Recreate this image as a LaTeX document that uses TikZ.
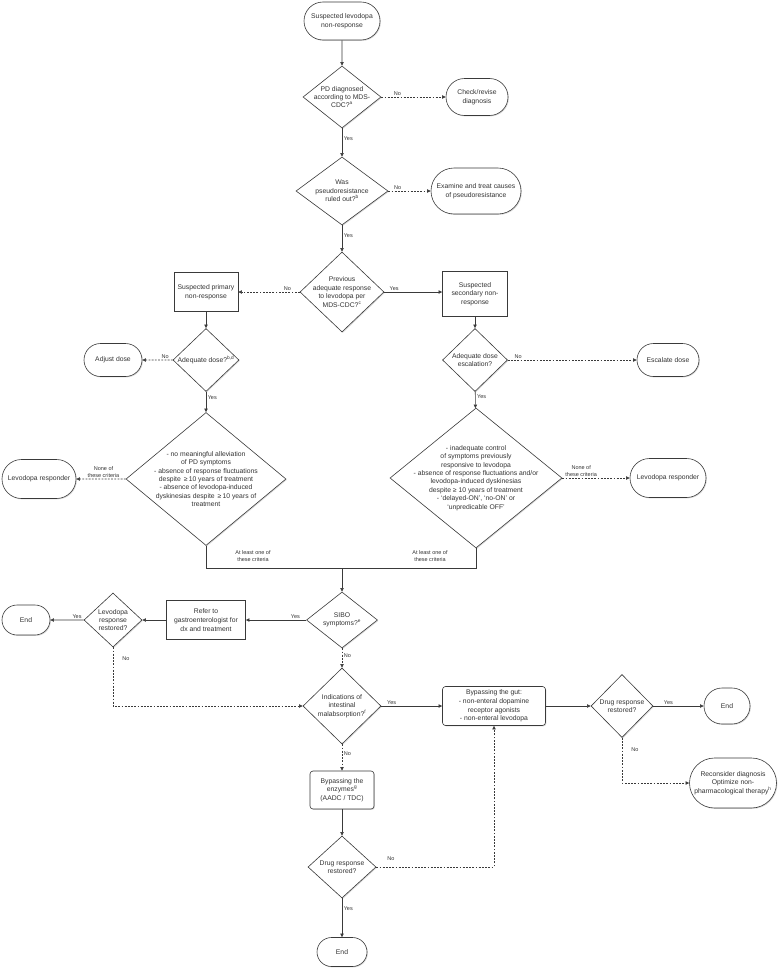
\documentclass[tikz,border=0pt]{standalone}
\usepackage{fontspec}
\setmainfont{Liberation Sans}
\usetikzlibrary{shapes.geometric,shapes.misc,arrows.meta,shadows}
\definecolor{linec}{HTML}{3A3A3A}
\definecolor{textc}{HTML}{333333}
\begin{document}
\begin{tikzpicture}[x=1pt,y=-1pt,
  every node/.style={text=textc},
  box/.style={draw=linec, fill=white, line width=0.6pt, font=\fontsize{6.8}{8.6}\selectfont, align=center, inner sep=1pt,
    drop shadow={shadow xshift=0.9pt,shadow yshift=-0.9pt,opacity=0.3}},
  term/.style={box, rounded rectangle},
  proc/.style={box, rectangle},
  rproc/.style={box, rectangle, rounded corners=3pt},
  dec/.style={box, diamond},
  lt/.style={font=\fontsize{6.8}{8.4}\selectfont, align=center, inner sep=0pt, text=textc},
  lbl/.style={font=\fontsize{5.5}{6.6}\selectfont, align=center, inner sep=1.5pt, text=textc},
  conn/.style={draw=linec, line width=0.6pt},
  arr/.style={conn, -{Triangle[length=3.6pt,width=3.4pt]}},
  darr/.style={arr, dash pattern=on 1.8pt off 1.4pt},
]
\useasboundingbox (0,0) rectangle (779,969);

% --- nodes ---
\node[term, minimum width=78pt, minimum height=38pt] (start) at (342,21) {Suspected levodopa\\non-response};
\node[dec, minimum width=78pt, minimum height=62pt, label={[lt]center:PD diagnosed\\according to MDS-\\CDC?\textsuperscript{a}}] (d1) at (342,97) {};
\node[term, minimum width=64pt, minimum height=37pt] (check) at (477,97) {Check/revise\\diagnosis};
\node[dec, minimum width=92pt, minimum height=68pt, label={[lt]center:Was\\pseudoresistance\\ruled out?\textsuperscript{b}}] (d2) at (342,191) {};
\node[term, minimum width=92pt, minimum height=46pt] (exam) at (476,191) {Examine and treat causes\\of pseudoresistance};
\node[dec, minimum width=84pt, minimum height=80pt, label={[lt]center:Previous\\adequate response\\to levodopa per\\MDS-CDC?\textsuperscript{c}}] (d3) at (342,292) {};
\node[proc, minimum width=64pt, minimum height=39pt] (prim) at (206,292) {Suspected primary\\non-response};
\node[proc, minimum width=65pt, minimum height=45pt] (sec) at (475,294) {Suspected\\secondary non-\\response};
\node[dec, minimum width=66pt, minimum height=63pt, label={[lt]center:Adequate dose?\textsuperscript{b,d}}] (d4) at (206,360) {};
\node[term, minimum width=60pt, minimum height=33pt] (adjust) at (113,360) {Adjust dose};
\node[dec, minimum width=65pt, minimum height=63pt, label={[lt]center:Adequate dose\\escalation?}] (d5) at (475,360) {};
\node[term, minimum width=64pt, minimum height=33pt] (escal) at (668,360) {Escalate dose};
\node[dec, minimum width=160pt, minimum height=133pt, label={[lt]center:- no meaningful alleviation\\of PD symptoms\\- absence of response fluctuations\\despite \,≥\,10 years of treatment\\- absence of levodopa-induced\\dyskinesias despite \,≥\,10 years of\\treatment}] (d6) at (206,479) {};
\node[term, minimum width=76pt, minimum height=39pt] (lr1) at (39,479) {Levodopa responder};
\node[dec, minimum width=172pt, minimum height=140pt, label={[lt]center:- inadequate control\\of symptoms previously\\responsive to levodopa\\- absence of response fluctuations and/or\\levodopa-induced dyskinesias\\despite ≥ 10 years of treatment\\- ‘delayed-ON’, ‘no-ON’ or\\‘unpredicable OFF’}] (d7) at (476,478) {};
\node[term, minimum width=78pt, minimum height=39pt] (lr2) at (668,478) {Levodopa responder};
\coordinate (mj) at (342,568);
\node[dec, minimum width=71pt, minimum height=56pt, label={[lt]center:SIBO\\symptoms?\textsuperscript{e}}] (sibo) at (342,620) {};
\node[proc, minimum width=79pt, minimum height=39pt] (refer) at (206,620) {Refer to\\gastroenterologist for\\dx and treatment};
\node[dec, minimum width=58pt, minimum height=54pt, label={[lt]center:Levodopa\\response\\restored?}] (lrr) at (113,620) {};
\node[term, minimum width=50pt, minimum height=30pt] (end1) at (26,620) {End};
\node[dec, minimum width=78pt, minimum height=76pt, label={[lt]center:Indications of\\intestinal\\malabsorption?\textsuperscript{f}}] (malabs) at (342,706) {};
\node[rproc, minimum width=103pt, minimum height=39pt] (gut) at (494,706) {Bypassing the gut:\\- non-enteral dopamine\\receptor agonists\\- non-enteral levodopa};
\node[dec, minimum width=62pt, minimum height=63pt, label={[lt]center:Drug response\\restored?}] (drr1) at (622,706) {};
\node[term, minimum width=48pt, minimum height=36pt] (end2) at (727,706) {End};
\node[term, minimum width=89pt, minimum height=50pt] (recon) at (733,783) {Reconsider diagnosis\\Optimize non-\\pharmacological therapy\textsuperscript{h}};
\node[rproc, minimum width=64pt, minimum height=38pt] (enz) at (342,790) {Bypassing the\\enzymes\textsuperscript{g}\\(AADC / TDC)};
\node[dec, minimum width=68pt, minimum height=62pt, label={[lt]center:Drug response\\restored?}] (drr2) at (342,867) {};
\node[term, minimum width=52pt, minimum height=29pt] (end3) at (342,952) {End};

% --- connectors ---
\draw[arr] (start) -- (d1);
\draw[darr] (d1) -- node[lbl,above,pos=0.25]{No} (check);
\draw[arr] (d1) -- node[lbl,right,pos=0.35]{Yes} (d2);
\draw[darr] (d2) -- node[lbl,above,pos=0.22]{No} (exam);
\draw[arr] (d2) -- node[lbl,right,pos=0.4]{Yes} (d3);
\draw[darr] (d3.west) -- node[lbl,above,pos=0.2]{No} (d3.west -| prim.east);
\draw[arr] (d3.east) -- node[lbl,above,pos=0.17]{Yes} (d3.east -| sec.west);
\draw[arr] (prim) -- (d4);
\draw[darr] (d4) -- node[lbl,above,pos=0.25]{No} (adjust);
\draw[arr] (d4) -- node[lbl,right,pos=0.3]{Yes} (d6);
\draw[arr] (sec) -- (d5);
\draw[darr] (d5) -- node[lbl,above,pos=0.08]{No} (escal);
\draw[arr] (d5) -- node[lbl,right,pos=0.3]{Yes} (d7);
\draw[darr] (d6) -- node[lbl,above,pos=0.45]{None of\\these criteria} (lr1);
\draw[darr] (d7) -- node[lbl,above,pos=0.28]{None of\\these criteria} (lr2);
\draw[conn] (d6.south) |- (mj);
\draw[conn] (d7.south) |- (mj);
\node[lbl] (al1) at (253,556) {At least one of\\these criteria};
\node[lbl] (al2) at (430,556) {At least one of\\these criteria};
\draw[arr] (mj) -- (sibo);
\draw[arr] (sibo) -- node[lbl,above,pos=0.18]{Yes} (refer);
\draw[arr] (refer) -- (lrr);
\draw[arr] (lrr) -- node[lbl,above,pos=0.2]{Yes} (end1);
\draw[darr] (lrr.south) |- (malabs.west);
\node[lbl] (lrrno) at (126,659) {No};
\draw[darr] (sibo) -- node[lbl,right,pos=0.4]{No} (malabs);
\draw[arr] (malabs) -- node[lbl,above,pos=0.17]{Yes} (gut);
\draw[arr] (gut) -- (drr1);
\draw[arr] (drr1) -- node[lbl,above,pos=0.3]{Yes} (end2);
\draw[darr] (drr1.south) |- (recon.west);
\node[lbl] (drr1no) at (635,750) {No};
\draw[darr] (malabs) -- node[lbl,right,pos=0.37]{No} (enz);
\draw[arr] (enz) -- (drr2);
\draw[arr] (drr2) -- node[lbl,right,pos=0.27]{Yes} (end3);
\draw[darr] (drr2.east) -| (gut.south);
\node[lbl] (drr2no) at (391,859) {No};
\end{tikzpicture}
\end{document}
